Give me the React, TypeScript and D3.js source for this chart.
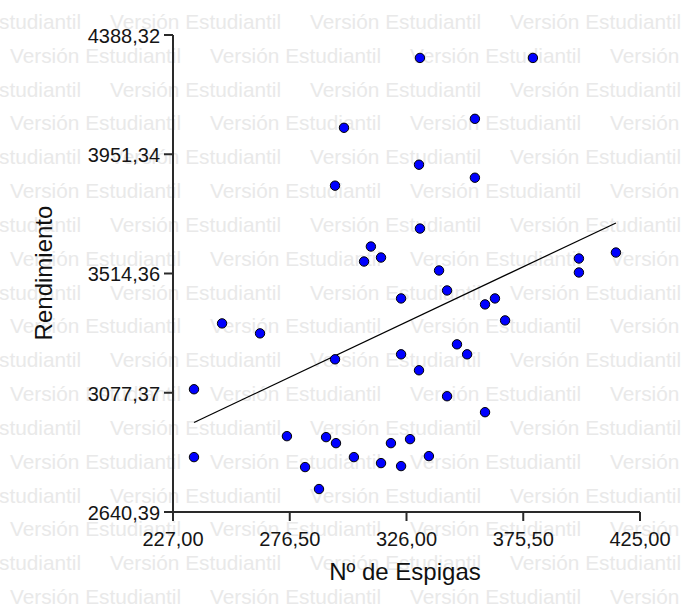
import React from "react";
import * as d3 from "d3";

const ESPIGAS = [235.9, 235.9, 247.8, 263.9, 275.3, 283.0, 288.9, 291.9, 296.1, 295.7, 303.7, 315.2, 319.4, 327.5, 323.7, 335.5, 359.3, 331.7, 379.6, 355.0, 331.3, 355.0, 299.5, 295.7, 331.7, 310.9, 315.2, 308.0, 339.8, 343.2, 323.7, 363.5, 359.3, 367.8, 399.1, 399.1, 414.8, 347.4, 351.7, 323.7, 331.3, 343.2];
const RENDIMIENTO = [3090.2, 2841.5, 3331.5, 3295.0, 2918.3, 2805.0, 2724.5, 2914.7, 2892.7, 3199.9, 2841.5, 2819.6, 2892.7, 2907.4, 2808.6, 2845.2, 3006.1, 4304.3, 4304.3, 4081.2, 3913.0, 3865.4, 4048.3, 3836.2, 3679.0, 3613.2, 3572.9, 3558.3, 3525.4, 3452.2, 3423.0, 3423.0, 3401.1, 3342.5, 3569.3, 3518.1, 3591.2, 3254.8, 3218.2, 3218.2, 3159.7, 3064.6];

const X_TICKS = [227.0, 276.5, 326.0, 375.5, 425.0];
const Y_TICKS = [2640.39, 3077.37, 3514.36, 3951.34, 4388.32];
const REG_INTERCEPT = 2004.0;
const REG_SLOPE = 4.088;

const X_TITLE = "Nº de Espigas";
const Y_TITLE = "Rendimiento";
const WATERMARK = "Versión Estudiantil";

const W = 684;
const H = 607;
const FONT = "'Liberation Sans', Arial, sans-serif";

const fmt = (v: number) => d3.format(".2f")(v).replace(".", ",");

export default function App() {
  const x = d3.scaleLinear().domain([227, 425]).range([173, 640]);
  const y = d3.scaleLinear().domain([2640.39, 4388.32]).range([512, 35]);

  const rows = d3.range(18);
  const cols = d3.range(5);

  const xMin = d3.min(ESPIGAS) as number;
  const xMax = d3.max(ESPIGAS) as number;
  const regPts: [number, number][] = [xMin, xMax].map((v) => [v, REG_INTERCEPT + REG_SLOPE * v]);
  const line = d3
    .line<[number, number]>()
    .x((d) => x(d[0]))
    .y((d) => y(d[1]));

  const axisColor = "#2a2a2a";

  return (
    <div style={{ position: "absolute", left: 0, top: 0 }}>
      <svg width={W} height={H} style={{ display: "block", background: "#fff" }}>
        <rect width={W} height={H} fill="#fff" />
        <g fontFamily={FONT} fontSize={20.8} fill="#e9e9e9">
          {rows.map((k) =>
            cols.map((j) => (
              <text key={`${k}-${j}`} x={(k % 2 === 0 ? -90 : 10) + 200 * j} y={29 + k * 33.83}>
                {WATERMARK}
              </text>
            ))
          )}
        </g>

        {/* axes */}
        <g stroke={axisColor} strokeWidth={2} fill="none">
          <line x1={173} x2={173} y1={y(Y_TICKS[Y_TICKS.length - 1])} y2={513} />
          <line x1={172} x2={x(425)} y1={512} y2={512} />
          {Y_TICKS.map((t) => (
            <line key={t} x1={164} x2={173} y1={y(t)} y2={y(t)} />
          ))}
          {X_TICKS.map((t) => (
            <line key={t} x1={x(t)} x2={x(t)} y1={512} y2={521} />
          ))}
        </g>

        <g fontFamily={FONT} fontSize={20} fill="#151515">
          {Y_TICKS.map((t) => (
            <text key={t} x={160} y={y(t) + 8} textAnchor="end">
              {fmt(t)}
            </text>
          ))}
          {X_TICKS.map((t) => (
            <text key={t} x={x(t)} y={546} textAnchor="middle">
              {fmt(t)}
            </text>
          ))}
        </g>

        <text x={405} y={580} textAnchor="middle" fontFamily={FONT} fontSize={24} fill="#111">
          {X_TITLE}
        </text>
        <text
          transform={`translate(52,273) rotate(-90)`}
          textAnchor="middle"
          fontFamily={FONT}
          fontSize={24}
          fill="#111"
        >
          {Y_TITLE}
        </text>

        <path d={line(regPts) || ""} stroke="#000" strokeWidth={1.2} fill="none" />

        <g>
          {ESPIGAS.map((v, i) => (
            <circle key={i} cx={x(v)} cy={y(RENDIMIENTO[i])} r={4.7} fill="#0000ff" stroke="#000" strokeWidth={1} />
          ))}
        </g>
      </svg>
    </div>
  );
}
